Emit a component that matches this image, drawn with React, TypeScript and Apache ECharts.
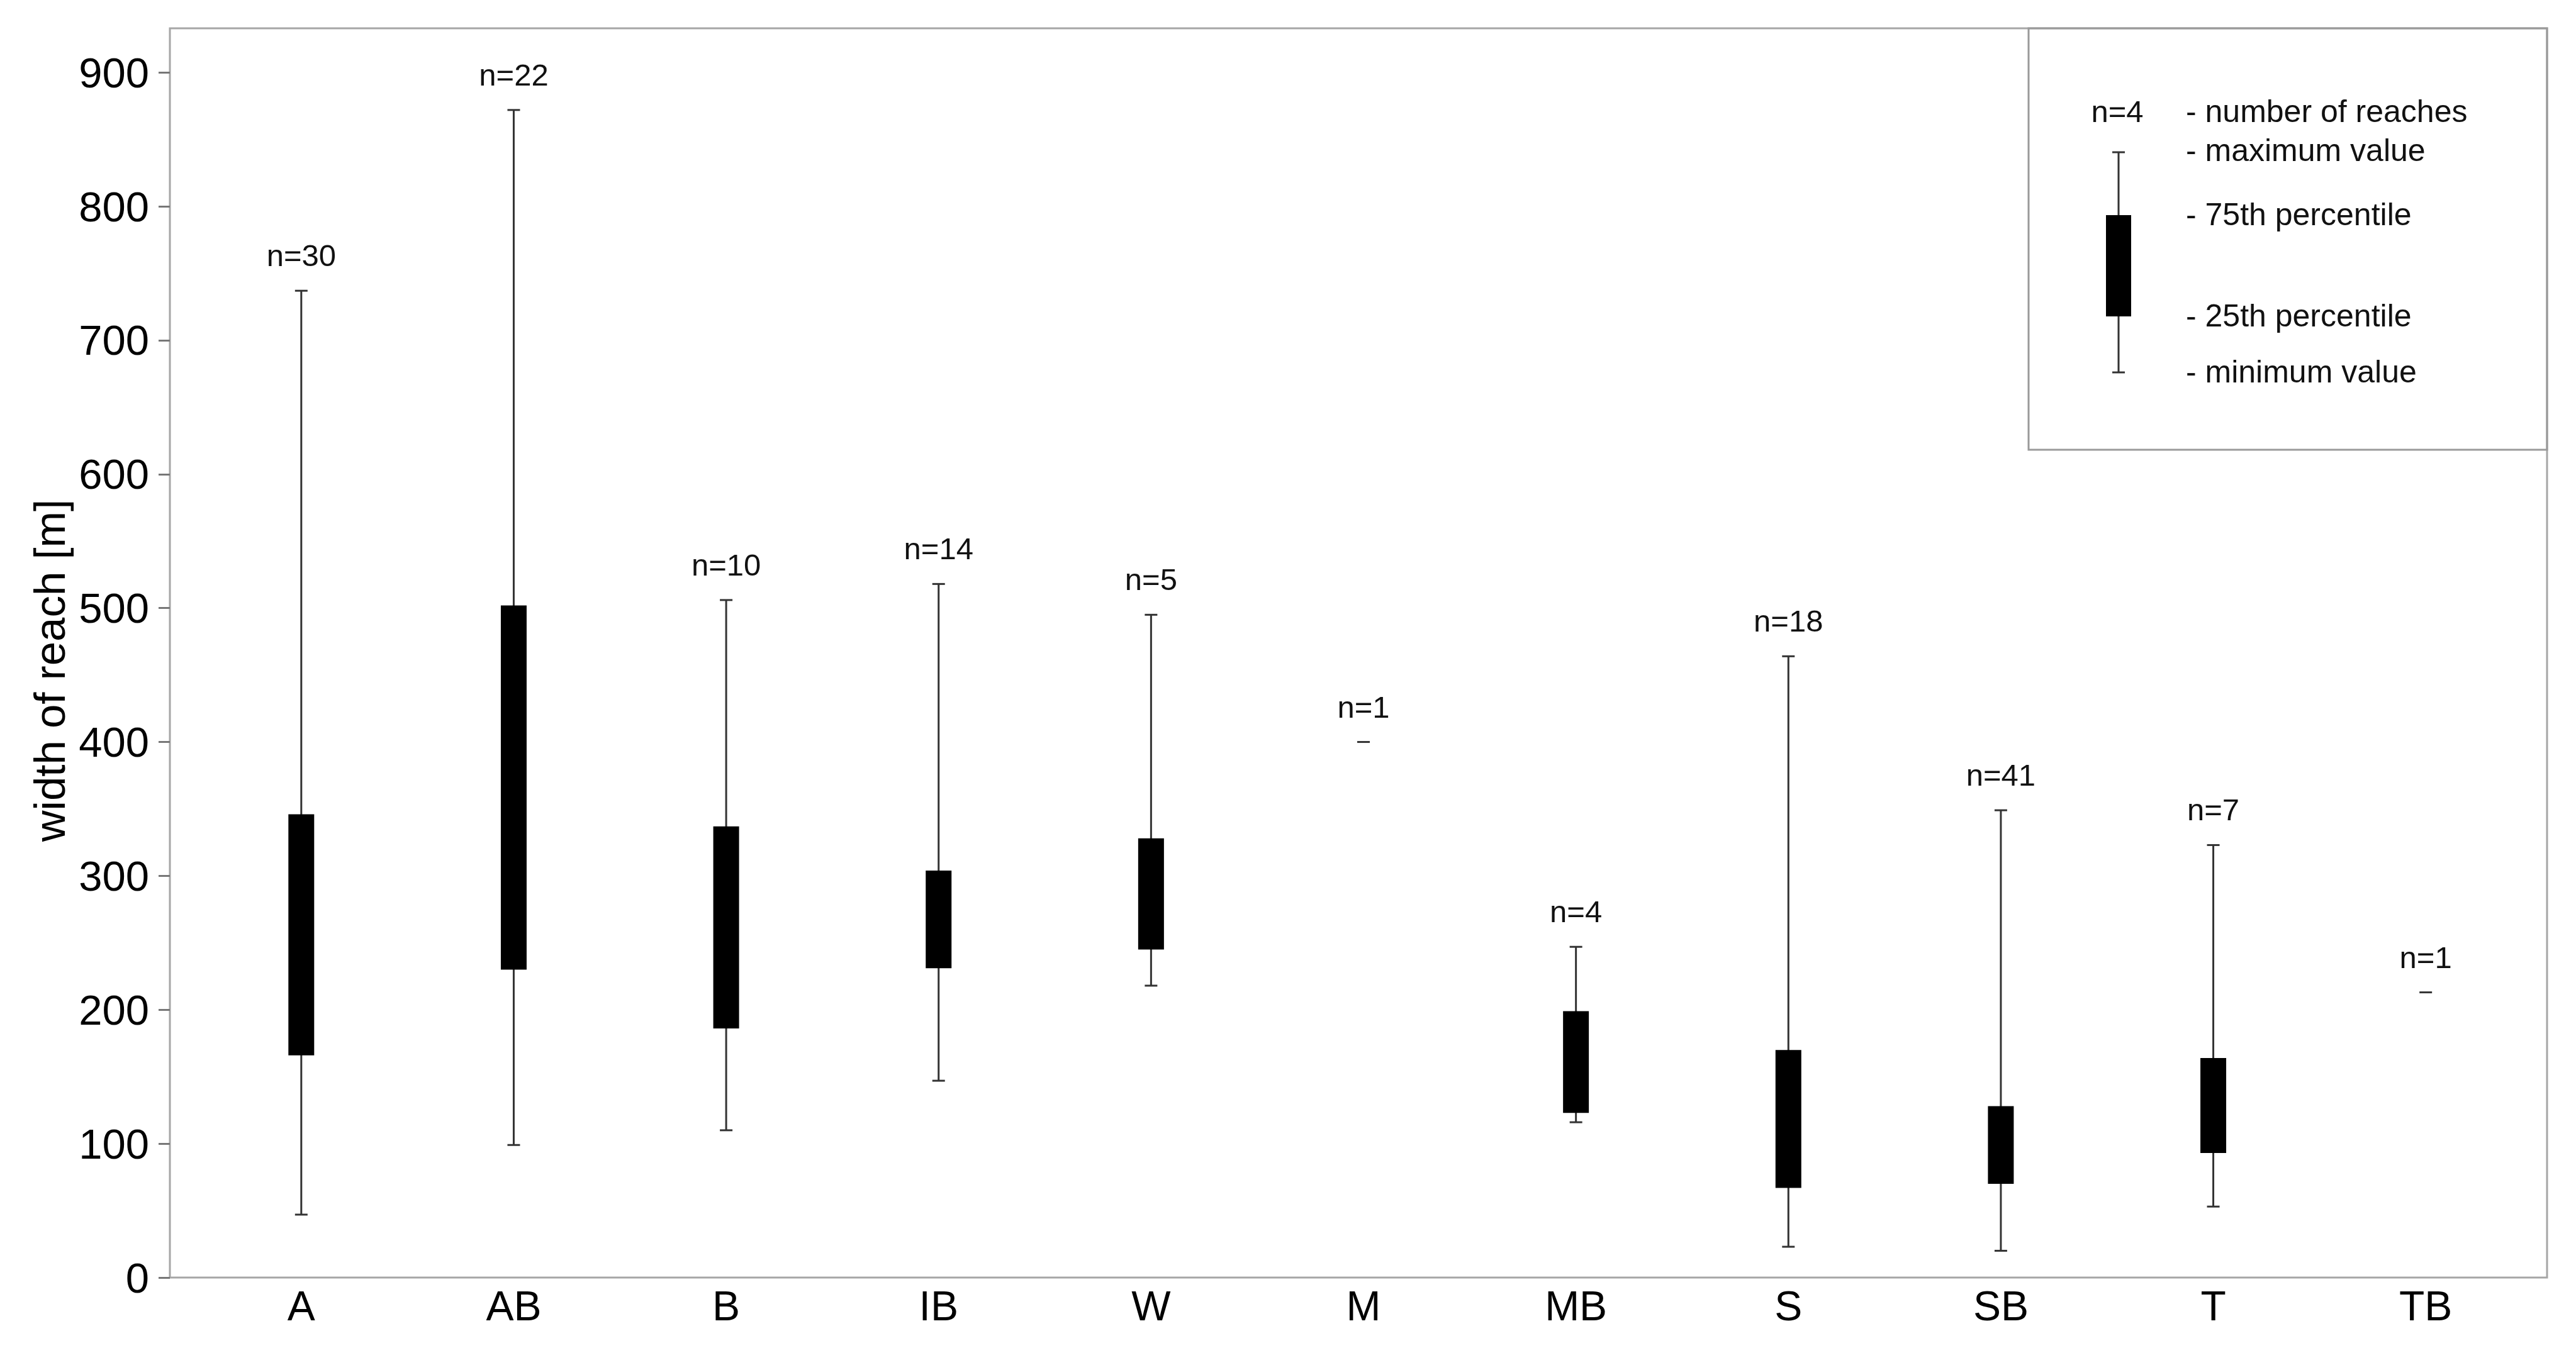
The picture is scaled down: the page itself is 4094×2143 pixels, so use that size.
import React, { useEffect, useRef } from 'react';
import * as echarts from 'echarts';

const categories = ['A', 'AB', 'B', 'IB', 'W', 'M', 'MB', 'S', 'SB', 'T', 'TB'];
const minValues = [47, 99, 110, 147, 218, 400, 116, 23, 20, 53, 213];
const q1Values: (number | null)[] = [166, 230, 186, 231, 245, null, 123, 67, 70, 93, null];
const q3Values: (number | null)[] = [346, 502, 337, 304, 328, null, 199, 170, 128, 164, null];
const maxValues = [737, 872, 506, 518, 495, 400, 247, 464, 349, 323, 213];
const nCounts = [30, 22, 10, 14, 5, 1, 4, 18, 41, 7, 1];
const yTickValues = [0, 100, 200, 300, 400, 500, 600, 700, 800, 900];
const legendLabels = ['- number of reaches', '- maximum value', '- 75th percentile', '- 25th percentile', '- minimum value'];
const legendN = 'n=4';

const FONT = "'Liberation Sans', Arial, sans-serif";
const Y_MAX = 933;

export default function App() {
  const ref = useRef<HTMLDivElement>(null);
  useEffect(() => {
    if (!ref.current) return;
    const chart = echarts.init(ref.current, null, { renderer: 'svg' });
    const whisker = { stroke: '#333', lineWidth: 3 };
    const legendX = 3367;
    const legendRows = [177, 239, 341, 502, 591];
    const option: any = {
      animation: false,
      backgroundColor: '#fff',
      grid: [
        { left: 270, right: 46, top: 45, bottom: 112, show: true, borderColor: '#a6a6a6', borderWidth: 3, backgroundColor: 'transparent', outerBoundsMode: 'none' },
        { left: 310, right: 70, top: 45, bottom: 112, outerBoundsMode: 'none' },
      ],
      xAxis: [
        {
          type: 'category', gridIndex: 1, data: categories, boundaryGap: true,
          axisLine: { show: false }, axisTick: { show: false }, splitLine: { show: false },
          axisLabel: { fontSize: 66, fontFamily: FONT, color: '#000', margin: 12 },
        },
        { type: 'value', gridIndex: 0, show: false, min: 0, max: 1 },
      ],
      yAxis: [
        {
          type: 'value', gridIndex: 0, min: 0, max: Y_MAX,
          axisLine: { show: false }, splitLine: { show: false },
          axisTick: { show: true, inside: false, length: 18, customValues: yTickValues, lineStyle: { color: '#777', width: 3 } },
          axisLabel: { fontSize: 67, fontFamily: FONT, color: '#000', margin: 33, customValues: yTickValues, padding: [0, 0, 20, 0] },
          name: 'width of reach [m]', nameLocation: 'middle', nameRotate: 90, nameGap: 152,
          nameTextStyle: { fontSize: 69, fontFamily: FONT, color: '#000', padding: [0, 56, 0, 0] },
        },
        { type: 'value', gridIndex: 1, min: 0, max: Y_MAX, show: false },
      ],
      series: [
        {
          type: 'custom', xAxisIndex: 0, yAxisIndex: 1, clip: false,
          data: categories.map((c, i) => [i, minValues[i], maxValues[i]]),
          renderItem: (params: any, api: any) => {
            const i = params.dataIndex;
            const x = api.coord([i, 0])[0];
            const yMin = api.coord([i, minValues[i]])[1];
            const yMax = api.coord([i, maxValues[i]])[1];
            const children: any[] = [];
            if (yMin !== yMax) {
              children.push({ type: 'line', shape: { x1: x, y1: yMin, x2: x, y2: yMax }, style: whisker });
              children.push({ type: 'line', shape: { x1: x - 10, y1: yMin, x2: x + 10, y2: yMin }, style: whisker });
            }
            children.push({ type: 'line', shape: { x1: x - 10, y1: yMax, x2: x + 10, y2: yMax }, style: whisker });
            const q1 = q1Values[i];
            const q3 = q3Values[i];
            if (q1 != null && q3 != null) {
              const y1 = api.coord([i, q1])[1];
              const y3 = api.coord([i, q3])[1];
              children.push({ type: 'rect', shape: { x: x - 20.5, y: y3, width: 41, height: y1 - y3 }, style: { fill: '#000' } });
            }
            children.push({
              type: 'text', x, y: yMax - 56,
              style: { text: 'n=' + nCounts[i], fontSize: 49, fontFamily: FONT, fill: '#111', align: 'center', verticalAlign: 'middle' },
            });
            return { type: 'group', children };
          },
        },
      ],
      graphic: [
        { type: 'rect', shape: { x: 3224, y: 45, width: 824, height: 670 }, style: { fill: 'transparent', stroke: '#9a9a9a', lineWidth: 3 }, z: 10 },
        { type: 'text', x: legendX - 2, y: legendRows[0], style: { text: legendN, fontSize: 49, fontFamily: FONT, fill: '#111', align: 'center', verticalAlign: 'middle' }, z: 10 },
        { type: 'line', shape: { x1: legendX, y1: 242, x2: legendX, y2: 592 }, style: whisker, z: 10 },
        { type: 'line', shape: { x1: legendX - 10, y1: 242, x2: legendX + 10, y2: 242 }, style: whisker, z: 10 },
        { type: 'line', shape: { x1: legendX - 10, y1: 592, x2: legendX + 10, y2: 592 }, style: whisker, z: 10 },
        { type: 'rect', shape: { x: legendX - 20, y: 342, width: 40, height: 161 }, style: { fill: '#000' }, z: 11 },
        ...legendLabels.map((t, k) => ({
          type: 'text', x: 3474, y: legendRows[k],
          style: { text: t, fontSize: 50, fontFamily: FONT, fill: '#111', align: 'left', verticalAlign: 'middle' }, z: 10,
        })),
      ],
    };
    chart.setOption(option);
    return () => chart.dispose();
  }, []);
  return <div ref={ref} style={{ position: 'fixed', left: 0, top: 0, width: 4094, height: 2143, background: '#fff' }} />;
}
